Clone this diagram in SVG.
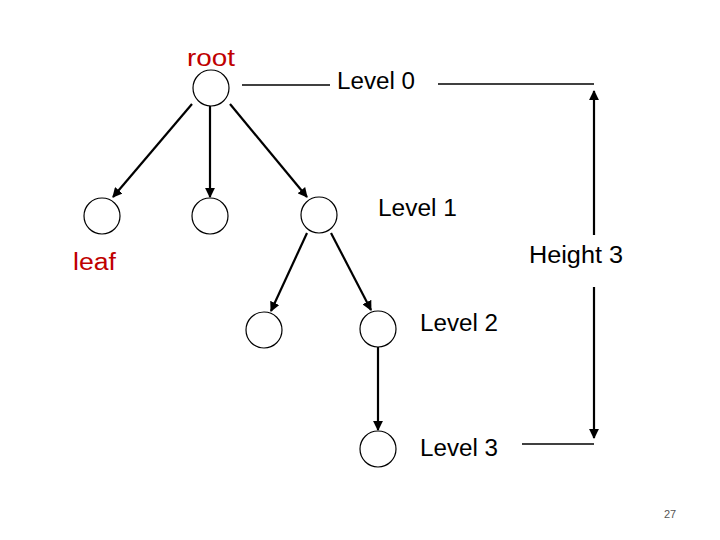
<svg xmlns="http://www.w3.org/2000/svg" width="720" height="540" viewBox="0 0 720 540">
<style>
.node{fill:#fff;stroke:#000;stroke-width:1.2}
.edge{stroke:#000;stroke-width:2.2;fill:none}
.thin{stroke:#000;stroke-width:1.4;fill:none}
.t{font-family:"Liberation Sans",Arial,sans-serif;font-size:23.5px;fill:#000}
.red{fill:#c00000}
</style>
<defs>
<marker id="ah" viewBox="0 0 10 10" refX="9" refY="5" markerWidth="4.5" markerHeight="4.5" orient="auto" markerUnits="strokeWidth">
<path d="M0,0 L10,5 L0,10 z" fill="#000"/>
</marker>
</defs>
<rect width="720" height="540" fill="#fff"/>
<g id="connectors">
<line class="edge" x1="192" y1="104" x2="113" y2="197" marker-end="url(#ah)"/>
<line class="edge" x1="210" y1="106" x2="210" y2="197" marker-end="url(#ah)"/>
<line class="edge" x1="230" y1="104" x2="307" y2="197" marker-end="url(#ah)"/>
<line class="edge" x1="307" y1="233" x2="271" y2="311" marker-end="url(#ah)"/>
<line class="edge" x1="331" y1="233" x2="371" y2="310" marker-end="url(#ah)"/>
<line class="edge" x1="378" y1="347" x2="378" y2="430" marker-end="url(#ah)"/>
<line class="thin" x1="242" y1="85" x2="330" y2="85"/>
<line class="thin" x1="438" y1="84" x2="594" y2="84"/>
<line class="thin" x1="522" y1="444" x2="594" y2="444"/>
<line class="edge" x1="594" y1="235" x2="594" y2="91" marker-end="url(#ah)"/>
<line class="edge" x1="594" y1="287" x2="594" y2="438" marker-end="url(#ah)"/>
</g>
<g id="n-root"><circle class="node" cx="211" cy="88" r="18"/></g>
<g id="n-l1a"><circle class="node" cx="102" cy="216" r="18"/></g>
<g id="n-l1b"><circle class="node" cx="210" cy="216" r="18"/></g>
<g id="n-l1c"><circle class="node" cx="319" cy="215" r="18"/></g>
<g id="n-l2a"><circle class="node" cx="264" cy="330" r="18"/></g>
<g id="n-l2b"><circle class="node" cx="378" cy="329" r="18"/></g>
<g id="n-l3"><circle class="node" cx="378" cy="449" r="18"/></g>
<g id="labels">
<text class="t red" x="187" y="66" textLength="48" lengthAdjust="spacingAndGlyphs">root</text>
<text class="t" x="337" y="89" textLength="78" lengthAdjust="spacingAndGlyphs">Level 0</text>
<text class="t" x="378" y="216" textLength="79" lengthAdjust="spacingAndGlyphs">Level 1</text>
<text class="t red" x="73" y="270" textLength="43" lengthAdjust="spacingAndGlyphs">leaf</text>
<text class="t" x="529" y="263" textLength="94" lengthAdjust="spacingAndGlyphs">Height 3</text>
<text class="t" x="420" y="331" textLength="78" lengthAdjust="spacingAndGlyphs">Level 2</text>
<text class="t" x="420" y="456" textLength="78" lengthAdjust="spacingAndGlyphs">Level 3</text>
<text x="664" y="518" font-family="Liberation Sans,Arial,sans-serif" font-size="11" fill="#555">27</text>
</g>
</svg>
